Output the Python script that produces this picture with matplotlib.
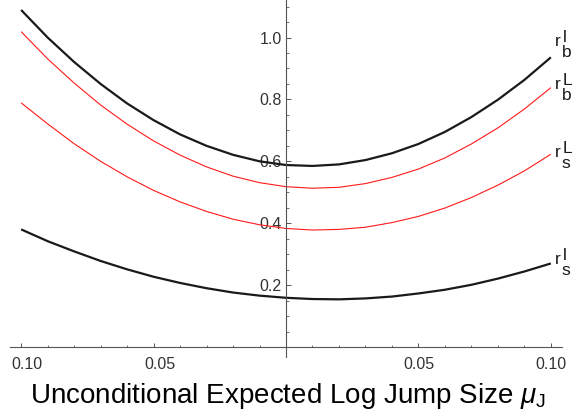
import matplotlib
matplotlib.use("Agg")
import matplotlib.pyplot as plt
import matplotlib.transforms as mtransforms
import numpy as np

plt.rcParams['font.family'] = ['Liberation Sans', 'DejaVu Sans']
plt.rcParams['mathtext.fontset'] = 'custom'
plt.rcParams['mathtext.rm'] = 'Liberation Sans'
plt.rcParams['mathtext.it'] = 'Liberation Sans:italic'

# unconditional expected log jump size
mu_j = [-0.10, -0.09, -0.08, -0.07, -0.06, -0.05, -0.04, -0.03, -0.02, -0.01, 0.00,
        0.01, 0.02, 0.03, 0.04, 0.05, 0.06, 0.07, 0.08, 0.09, 0.10]

rb_l = [1.089, 1.000, 0.921, 0.850, 0.787, 0.733, 0.687, 0.650, 0.621, 0.600, 0.588,
        0.585, 0.590, 0.604, 0.626, 0.656, 0.695, 0.743, 0.799, 0.863, 0.936]
rb_L = [1.019, 0.931, 0.853, 0.782, 0.720, 0.666, 0.620, 0.582, 0.552, 0.531, 0.518,
        0.513, 0.516, 0.528, 0.548, 0.575, 0.611, 0.656, 0.708, 0.769, 0.838]
rs_L = [0.789, 0.721, 0.657, 0.600, 0.550, 0.506, 0.469, 0.438, 0.413, 0.395, 0.383,
        0.378, 0.380, 0.387, 0.402, 0.422, 0.449, 0.483, 0.523, 0.569, 0.623]
rs_l = [0.380, 0.342, 0.309, 0.278, 0.251, 0.227, 0.207, 0.190, 0.176, 0.166, 0.159,
        0.155, 0.154, 0.157, 0.163, 0.173, 0.185, 0.201, 0.221, 0.244, 0.270]

series = [rb_l, rb_L, rs_L, rs_l]
colors = ['#1a1a1a', '#ff1a1a', '#ff1a1a', '#1a1a1a']
widths = [1.6, 0.8, 0.8, 1.6]
subs = ['b', 'b', 's', 's']
sups = ['l', 'L', 'L', 'l']
label_shift = [12, 0, -2, 0]   # pixels, first label lifted above the others

fig = plt.figure(figsize=(5.72, 4.17), dpi=100)
ax = fig.add_axes([10 / 572, 60 / 417, 552 / 572, 357 / 417])
ax.set_xlim(-0.1042, 0.1042)
ax.set_ylim(-0.0323, 1.1212)

for y, c, w in zip(series, colors, widths):
    ax.plot(mu_j, y, color=c, lw=w, solid_capstyle='butt', solid_joinstyle='round')

# curve labels  r_sub^sup  at the right end of each curve
for y, sb, sp, sh in zip(series, subs, sups, label_shift):
    end = (mu_j[-1], y[-1])
    kw = dict(xycoords='data', textcoords='offset pixels', fontsize=12.5,
              va='baseline', ha='left', color='#1a1a1a')
    ax.annotate('r', end, xytext=(4, sh - 1), **kw)
    ax.annotate(sb, end, xytext=(11, sh - 12), **kw)
    ax.annotate(sp, end, xytext=(12, sh + 3), **kw)

# Mathematica-like axes through the origin
axis_col = '#555555'
for s in ['top', 'right']:
    ax.spines[s].set_visible(False)
ax.spines['left'].set_position(('data', 0))
ax.spines['bottom'].set_position(('data', 0))
for s in ['left', 'bottom']:
    ax.spines[s].set_color(axis_col)
    ax.spines[s].set_linewidth(0.8)

ax.set_xticks([-0.10, -0.05, 0.05, 0.10])
ax.set_xticklabels(['0.10', '0.05', '0.05', '0.10'])
ax.set_xticks(np.round(np.arange(-0.10, 0.1001, 0.01), 2), minor=True)
ax.set_yticks([0.2, 0.4, 0.6, 0.8, 1.0])
ax.set_yticklabels(['0.2', '0.4', '0.6', '0.8', '1.0'])
ax.set_yticks(np.round(np.arange(0.05, 1.11, 0.05), 2), minor=True)

ax.tick_params(axis='x', which='major', direction='in', length=3.2, width=0.7,
               color=axis_col, labelsize=11.5, labelcolor='#333333', pad=7)
ax.tick_params(axis='x', which='minor', direction='in', length=1.8, width=0.6, color=axis_col)
ax.tick_params(axis='y', which='major', direction='in', length=3.8, width=0.7,
               color=axis_col, labelsize=11.5, labelcolor='#333333', pad=3)
ax.tick_params(axis='y', which='minor', direction='in', length=2.4, width=0.6, color=axis_col)

# negative labels lost their minus sign but keep their place
shift = mtransforms.ScaledTranslation(6 / 100, 0, fig.dpi_scale_trans)
for tick in ax.xaxis.get_major_ticks()[:2]:
    tick.label1.set_transform(tick.label1.get_transform() + shift)

fig.text(288 / 572, 14 / 417, r'Unconditional Expected Log Jump Size $\mu_\mathrm{J}$',
         ha='center', va='baseline', fontsize=20, color='black')

fig.savefig('out.png', dpi=100)
